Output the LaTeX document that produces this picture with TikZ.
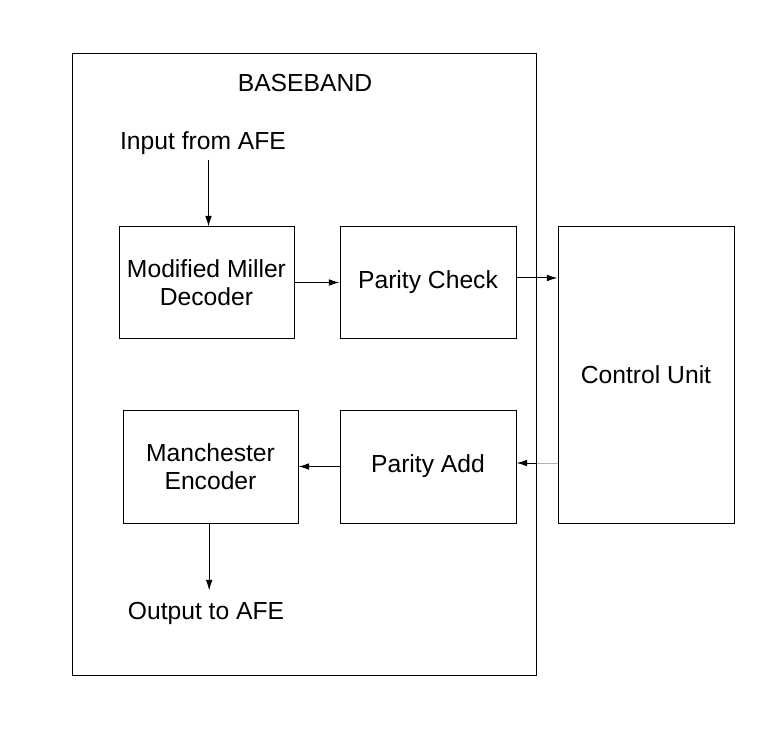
\documentclass[tikz,border=0pt]{standalone}
\usepackage{fontspec}
\setmainfont{Liberation Sans}
\usetikzlibrary{arrows.meta}
\begin{document}
\begin{tikzpicture}[x=0.75pt,y=-0.75pt,
  box/.style={draw=black,line width=0.75pt,inner sep=0pt,align=center,
    font=\fontsize{18.5}{21}\selectfont},
  lbl/.style={inner sep=0pt,font=\fontsize{18.5}{21}\selectfont},
  arr/.style={line width=0.75pt,-{Latex[length=8pt,width=5pt]}}]
\useasboundingbox (0,0) rectangle (773,730);
\node[box,minimum width=464*0.75pt,minimum height=621*0.75pt] (bb) at (304,364.5) {};
\node[lbl] (title) at (305,83) {BASEBAND};
\node[lbl] (in) at (203,143) {Input from AFE};
\node[box,minimum width=175*0.75pt,minimum height=111*0.75pt] (mm) at (206.5,282.5) {Modified Miller\\Decoder};
\node[box,minimum width=176*0.75pt,minimum height=111*0.75pt] (pc) at (428,282.5) {Parity Check};
\node[box,minimum width=176*0.75pt,minimum height=296*0.75pt] (cu) at (646,375) {Control Unit};
\node[box,minimum width=176*0.75pt,minimum height=113*0.75pt] (pa) at (428,466.5) {Parity Add};
\node[box,minimum width=175*0.75pt,minimum height=113*0.75pt] (me) at (210.5,466.5) {Manchester\\Encoder};
\node[lbl] (out) at (206,613) {Output to AFE};
\coordinate (inA) at (208.5,160);
\draw[arr] (inA) -- (inA |- mm.north);
\draw[arr] (mm.east) -- (pc.west);
\draw[arr] ([yshift=3.4pt]pc.east) -- ([yshift=3.4pt]pc.east -| cu.west);
\draw[line width=0.75pt,gray!60] ([yshift=2.6pt]pa.east -| cu.west) -- ([yshift=2.6pt]pa.east -| bb.east);
\draw[arr] ([yshift=2.6pt]pa.east -| bb.east) -- ([yshift=2.6pt]pa.east);
\draw[arr] (pa.west) -- (me.east);
\draw[arr] ([xshift=-1pt]me.south) -- ++(0,67);
\end{tikzpicture}
\end{document}
